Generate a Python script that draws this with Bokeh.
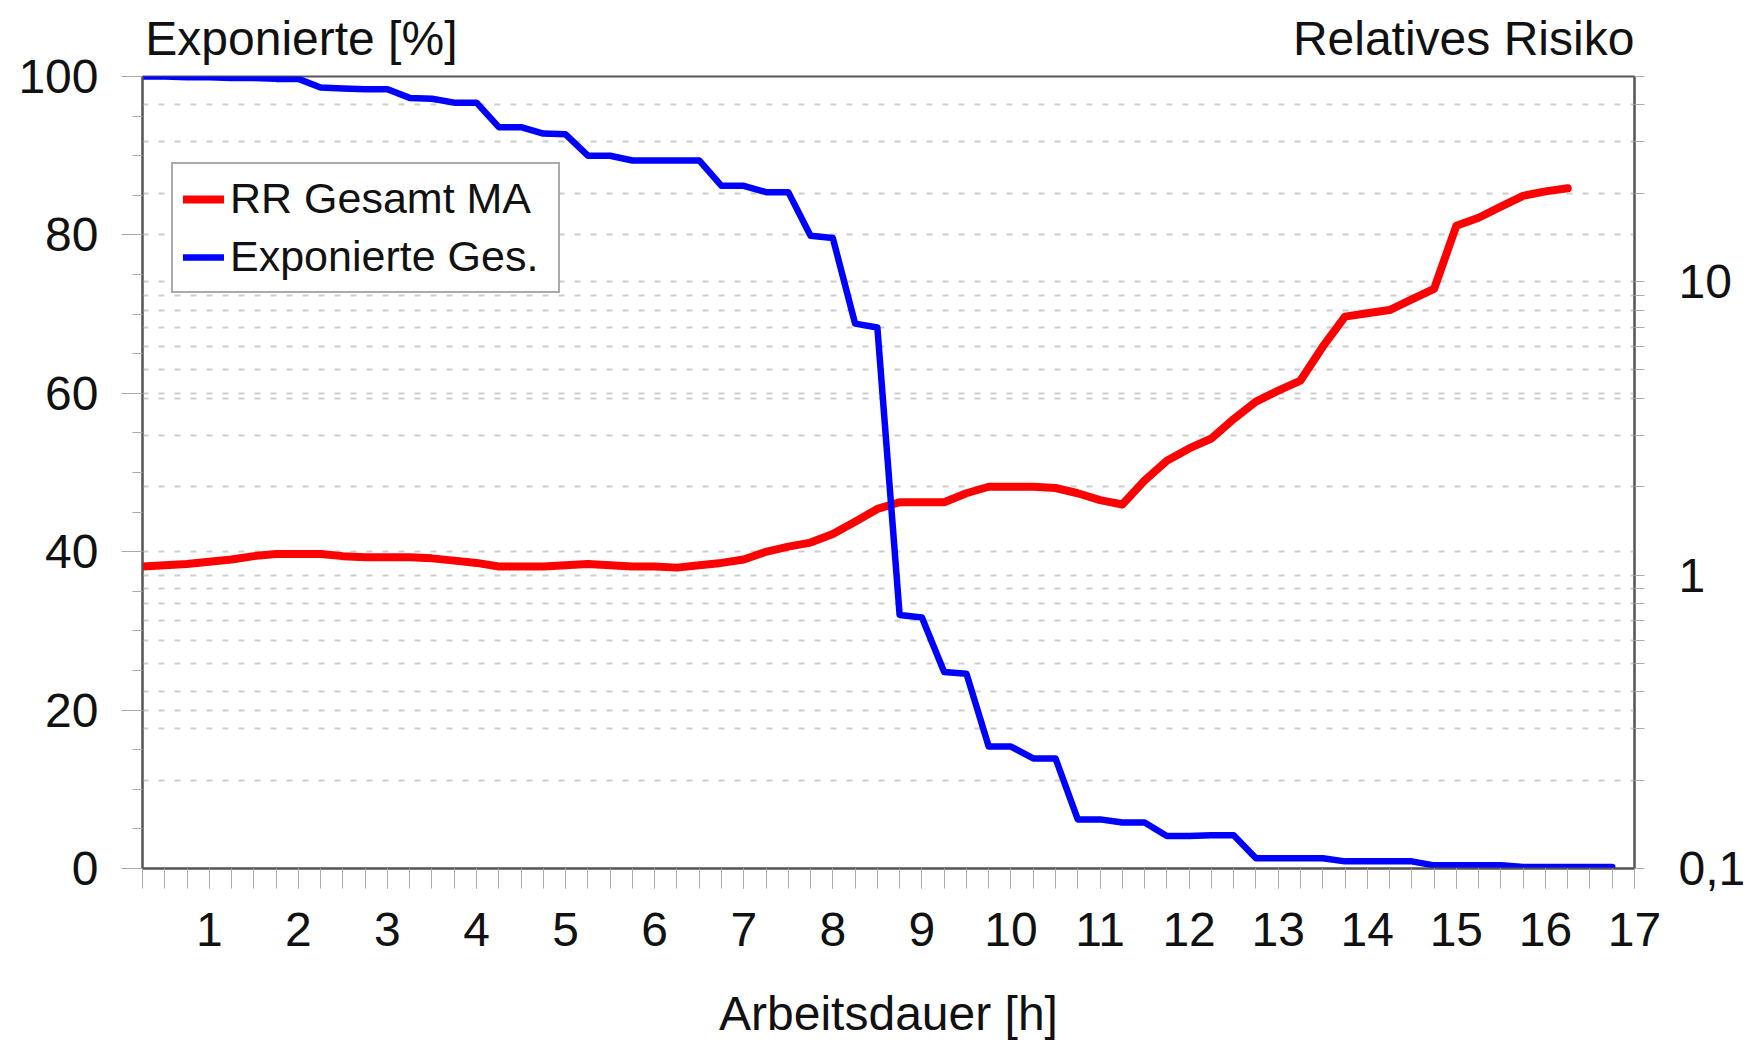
from bokeh.plotting import figure
from bokeh.models import Range1d, LogScale, LogAxis, LinearAxis, FixedTicker, Grid
from bokeh.embed import file_html
from bokeh.resources import INLINE

# ---- data ----
hours_exp = [0.25, 0.5, 0.75, 1.0, 1.25, 1.5, 1.75, 2.0, 2.25, 2.5, 2.75, 3.0,
             3.25, 3.5, 3.75, 4.0, 4.25, 4.5, 4.75, 5.0, 5.25, 5.5, 5.75, 6.0,
             6.25, 6.5, 6.75, 7.0, 7.25, 7.5, 7.75, 8.0, 8.25, 8.5, 8.75, 9.0,
             9.25, 9.5, 9.75, 10.0, 10.25, 10.5, 10.75, 11.0, 11.25, 11.5, 11.75, 12.0,
             12.25, 12.5, 12.75, 13.0, 13.25, 13.5, 13.75, 14.0, 14.25, 14.5, 14.75, 15.0,
             15.25, 15.5, 15.75, 16.0, 16.25, 16.5, 16.75]
exposed_pct = [100.0, 100.0, 99.9, 99.9, 99.8, 99.8, 99.7, 99.7, 98.6, 98.5, 98.4, 98.4,
               97.3, 97.2, 96.7, 96.7, 93.6, 93.6, 92.8, 92.7, 90.0, 90.0, 89.4, 89.4,
               89.4, 89.4, 86.2, 86.2, 85.4, 85.4, 79.9, 79.6, 68.8, 68.3, 32.0, 31.7,
               24.8, 24.6, 15.4, 15.4, 13.9, 13.9, 6.2, 6.2, 5.8, 5.8, 4.1, 4.1,
               4.2, 4.2, 1.3, 1.3, 1.3, 1.3, 0.9, 0.9, 0.9, 0.9, 0.4, 0.4,
               0.4, 0.4, 0.2, 0.2, 0.2, 0.2, 0.2]

hours_rr = [0.25, 0.5, 0.75, 1.0, 1.25, 1.5, 1.75, 2.0, 2.25, 2.5, 2.75, 3.0,
            3.25, 3.5, 3.75, 4.0, 4.25, 4.5, 4.75, 5.0, 5.25, 5.5, 5.75, 6.0,
            6.25, 6.5, 6.75, 7.0, 7.25, 7.5, 7.75, 8.0, 8.25, 8.5, 8.75, 9.0,
            9.25, 9.5, 9.75, 10.0, 10.25, 10.5, 10.75, 11.0, 11.25, 11.5, 11.75, 12.0,
            12.25, 12.5, 12.75, 13.0, 13.25, 13.5, 13.75, 14.0, 14.25, 14.5, 14.75, 15.0,
            15.25, 15.5, 15.75, 16.0, 16.25]
rr_total = [1.07, 1.08, 1.09, 1.11, 1.13, 1.16, 1.18, 1.18, 1.18, 1.16, 1.15, 1.15,
            1.15, 1.14, 1.12, 1.10, 1.07, 1.07, 1.07, 1.08, 1.09, 1.08, 1.07, 1.07,
            1.06, 1.08, 1.10, 1.13, 1.20, 1.25, 1.29, 1.38, 1.52, 1.68, 1.77, 1.77,
            1.77, 1.90, 2.00, 2.00, 2.00, 1.98, 1.90, 1.80, 1.74, 2.10, 2.45, 2.70,
            2.92, 3.40, 3.90, 4.25, 4.60, 6.00, 7.60, 7.80, 8.00, 8.70, 9.45, 15.5,
            16.5, 18.0, 19.6, 20.3, 20.8]

x_ticks = [1, 2, 3, 4, 5, 6, 7, 8, 9, 10, 11, 12, 13, 14, 15, 16, 17]
x_minor = [0.25, 0.5, 0.75, 1.0, 1.25, 1.5, 1.75, 2.0, 2.25, 2.5, 2.75, 3.0,
           3.25, 3.5, 3.75, 4.0, 4.25, 4.5, 4.75, 5.0, 5.25, 5.5, 5.75, 6.0,
           6.25, 6.5, 6.75, 7.0, 7.25, 7.5, 7.75, 8.0, 8.25, 8.5, 8.75, 9.0,
           9.25, 9.5, 9.75, 10.0, 10.25, 10.5, 10.75, 11.0, 11.25, 11.5, 11.75, 12.0,
           12.25, 12.5, 12.75, 13.0, 13.25, 13.5, 13.75, 14.0, 14.25, 14.5, 14.75, 15.0,
           15.25, 15.5, 15.75, 16.0, 16.25, 16.5, 16.75, 17.0]
y_ticks = [0, 20, 40, 60, 80, 100]
y_minor = [5, 10, 15, 25, 30, 35, 45, 50, 55, 65, 70, 75, 85, 90, 95]
y_grid = [20, 40, 60, 80]
rr_ticks = [0.1, 1, 10]
rr_minor = [0.2, 0.3, 0.4, 0.5, 0.6, 0.7, 0.8, 0.9, 2, 3, 4, 5, 6, 7, 8, 9, 20, 30, 40, 50]
rr_grid = [0.2, 0.3, 0.4, 0.5, 0.6, 0.7, 0.8, 0.9, 1, 2, 3, 4, 5, 6, 7, 8, 9, 10, 20, 30, 40]
rr_labels = {0.1: "0,1", 1: "1", 10: "10"}

title_left = "Exponierte [%]"
title_right = "Relatives Risiko"
x_title = "Arbeitsdauer [h]"

FONT = "Liberation Sans"
W, H = 1748, 1043
ML, MR, MT, MB = 142, 113, 76, 175
FW = W - ML - MR
# centres (in px from the frame's left edge) of the two titles written above the frame
TITLE_POS = [159, 1322]

p = figure(width=W, height=H, output_backend="svg", toolbar_location=None,
           x_range=Range1d(0.25, 17), y_range=Range1d(0, 100),
           min_border_left=ML, min_border_right=MR, min_border_top=MT, min_border_bottom=MB,
           background_fill_color="white", border_fill_color="white")
p.extra_y_ranges = {"rr": Range1d(0.1, 50)}
p.extra_y_scales = {"rr": LogScale()}
p.extra_x_ranges = {"title": Range1d(0, FW)}

p.outline_line_color = "#555555"
p.outline_line_width = 2

# grids
p.xgrid.visible = False
p.ygrid.ticker = FixedTicker(ticks=y_grid)
p.ygrid.grid_line_color = "#cccccc"
p.ygrid.grid_line_width = 2
p.ygrid.grid_line_dash = "6 10"
rgrid = Grid(dimension=1, ticker=FixedTicker(ticks=rr_grid), y_range_name="rr",
             grid_line_color="#cccccc", grid_line_width=2, grid_line_dash="6 10")
p.add_layout(rgrid)

# x axis
xa = p.xaxis[0]
xa.ticker = FixedTicker(ticks=x_ticks, minor_ticks=x_minor)
xa.axis_line_color = "#555555"
xa.axis_line_width = 2
xa.major_tick_out = 20
xa.major_tick_in = 0
xa.minor_tick_out = 20
xa.minor_tick_in = 0
xa.major_tick_line_color = "#aaaaaa"
xa.minor_tick_line_color = "#aaaaaa"
xa.major_label_standoff = 24
xa.major_label_text_font = FONT
xa.major_label_text_font_size = "48px"
xa.major_label_text_color = "#111111"
xa.axis_label = x_title
xa.axis_label_text_font = FONT
xa.axis_label_text_font_size = "48px"
xa.axis_label_text_font_style = "normal"
xa.axis_label_text_color = "#111111"
xa.axis_label_standoff = 38

# left y axis
ya = p.yaxis[0]
ya.ticker = FixedTicker(ticks=y_ticks, minor_ticks=y_minor)
ya.axis_line_color = "#555555"
ya.axis_line_width = 2
ya.major_tick_out = 21
ya.major_tick_in = 0
ya.minor_tick_out = 10
ya.minor_tick_in = 0
ya.major_tick_line_color = "#aaaaaa"
ya.minor_tick_line_color = "#aaaaaa"
ya.major_label_standoff = 23
ya.major_label_text_font = FONT
ya.major_label_text_font_size = "48px"
ya.major_label_text_color = "#111111"

# right log axis
ra = LogAxis(y_range_name="rr", ticker=FixedTicker(ticks=rr_ticks, minor_ticks=rr_minor),
             major_label_overrides=rr_labels)
ra.axis_line_color = "#555555"
ra.axis_line_width = 2
ra.major_tick_out = 10
ra.major_tick_in = 0
ra.minor_tick_out = 10
ra.minor_tick_in = 0
ra.major_tick_line_color = "#aaaaaa"
ra.minor_tick_line_color = "#aaaaaa"
ra.major_label_standoff = 34
ra.major_label_text_font = FONT
ra.major_label_text_font_size = "48px"
ra.major_label_text_color = "#111111"
p.add_layout(ra, "right")

# axis titles above the frame, written as the labels of a bare top axis
ta = LinearAxis(x_range_name="title", ticker=FixedTicker(ticks=TITLE_POS),
                major_label_overrides={TITLE_POS[0]: title_left, TITLE_POS[1]: title_right})
ta.axis_line_color = None
ta.major_tick_line_color = None
ta.minor_tick_line_color = None
ta.major_tick_out = 0
ta.major_tick_in = 0
ta.minor_tick_out = 0
ta.minor_tick_in = 0
ta.major_label_standoff = 12
ta.major_label_text_font = FONT
ta.major_label_text_font_size = "48px"
ta.major_label_text_color = "#111111"
p.add_layout(ta, "above")

# lines
p.line(hours_rr, rr_total, y_range_name="rr", line_color="#ff0000", line_width=8,
       line_join="round", line_cap="round", legend_label="RR Gesamt MA")
p.line(hours_exp, exposed_pct, line_color="#0000ff", line_width=6.5,
       line_join="round", line_cap="round", legend_label="Exponierte Ges.")

lg = p.legend[0]
lg.location = (29, 575)
lg.label_text_font = FONT
lg.label_text_font_size = "43px"
lg.label_text_color = "#111111"
lg.glyph_width = 41
lg.glyph_height = 40
lg.label_height = 48
lg.label_width = 318
lg.label_standoff = 6
lg.spacing = 9
lg.padding = 10
lg.margin = 0
lg.border_line_color = "#555555"
lg.border_line_width = 2
lg.background_fill_color = "white"
lg.background_fill_alpha = 1.0

open("out.html", "w").write(file_html(p, INLINE))
